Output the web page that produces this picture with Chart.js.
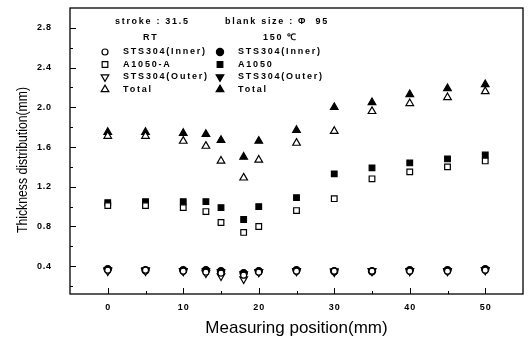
<!DOCTYPE html>
<html>
<head>
<meta charset="utf-8">
<script src="https://cdn.jsdelivr.net/npm/chart.js@4.4.1/dist/chart.umd.min.js"></script>
<style>
  html, body { margin: 0; padding: 0; background: #fff; }
  #wrap { width: 530px; height: 341px; }
</style>
</head>
<body>
<div id="wrap"><canvas id="c" width="530" height="341"></canvas></div>
<script>
// Measuring positions along the cup wall (mm)
const positions = [0, 5, 10, 13, 15, 18, 20, 25, 30, 35, 40, 45, 50];

// Thickness (mm), formed at room temperature
const innerRT = [0.36, 0.36, 0.35, 0.34, 0.33, 0.31, 0.34, 0.35, 0.35, 0.35, 0.35, 0.35, 0.36];
const a1050A_RT = [1.01, 1.01, 0.99, 0.95, 0.84, 0.74, 0.80, 0.96, 1.08, 1.28, 1.35, 1.40, 1.46];
const outerRT = [0.35, 0.35, 0.35, 0.33, 0.30, 0.27, 0.34, 0.35, 0.35, 0.35, 0.35, 0.35, 0.36];
const totalRT = [1.71, 1.71, 1.66, 1.61, 1.46, 1.29, 1.47, 1.64, 1.76, 1.96, 2.04, 2.10, 2.16];

// Thickness (mm), formed at 150 °C
const inner150 = [0.37, 0.36, 0.36, 0.36, 0.35, 0.33, 0.35, 0.36, 0.35, 0.35, 0.36, 0.36, 0.37];
const a1050_150 = [1.04, 1.05, 1.05, 1.05, 0.99, 0.87, 1.00, 1.09, 1.33, 1.39, 1.44, 1.48, 1.52];
const outer150 = [0.36, 0.36, 0.35, 0.35, 0.34, 0.32, 0.34, 0.35, 0.34, 0.35, 0.35, 0.35, 0.36];
const total150 = [1.75, 1.75, 1.74, 1.73, 1.67, 1.50, 1.66, 1.77, 2.00, 2.05, 2.13, 2.19, 2.23];

// Axis ticks
const xTickValues = [0, 10, 20, 30, 40, 50];
const yTickValues = [0.4, 0.8, 1.2, 1.6, 2.0, 2.4, 2.8];

const xTitle = 'Measuring position(mm)';
const yTitle = 'Thickness distribution(mm)';
const headerLeft = 'stroke : 31.5';
const headerRight = 'blank size : \u03A6  95';
const groupLeft = 'RT';
const groupRight = '150 \u2103';

const markerShapes = {
  circle: { pointStyle: 'circle', rotation: 0 },
  square: { pointStyle: 'rect', rotation: 0 },
  down:   { pointStyle: 'triangle', rotation: 180 },
  up:     { pointStyle: 'triangle', rotation: 0 }
};
const markerRadius = { circle: 3, square: 4, down: 4.4, up: 4.4 };
const radiusFor = (shape, filled) => (filled && shape === 'circle') ? 3.6 : markerRadius[shape];

const series = [
  { label: 'STS304(Inner)', values: innerRT,   shape: 'circle', filled: false, col: 0 },
  { label: 'A1050-A',       values: a1050A_RT, shape: 'square', filled: false, col: 0 },
  { label: 'STS304(Outer)', values: outerRT,   shape: 'down',   filled: false, col: 0 },
  { label: 'Total',         values: totalRT,   shape: 'up',     filled: false, col: 0 },
  { label: 'STS304(Inner)', values: inner150,  shape: 'circle', filled: true,  col: 1 },
  { label: 'A1050',         values: a1050_150, shape: 'square', filled: true,  col: 1 },
  { label: 'STS304(Outer)', values: outer150,  shape: 'down',   filled: true,  col: 1 },
  { label: 'Total',         values: total150,  shape: 'up',     filled: true,  col: 1 }
];

const datasets = series.map(s => ({
  label: s.label,
  data: positions.map((x, i) => ({ x: x, y: s.values[i] })),
  showLine: false,
  pointStyle: markerShapes[s.shape].pointStyle,
  rotation: markerShapes[s.shape].rotation,
  pointRadius: radiusFor(s.shape, s.filled),
  pointBorderWidth: 1.2,
  pointBorderColor: '#000',
  pointBackgroundColor: s.filled ? '#000' : '#fff'
}));

const spaced = str => String(str).split('').join('\u200A');

function drawMarker(ctx, shape, filled, x, y) {
  const opts = {
    pointStyle: markerShapes[shape].pointStyle,
    rotation: markerShapes[shape].rotation,
    radius: radiusFor(shape, filled),
    borderWidth: 1.2
  };
  ctx.save();
  ctx.fillStyle = filled ? '#000' : '#fff';
  ctx.strokeStyle = '#000';
  ctx.lineWidth = 1.2;
  Chart.helpers.drawPoint(ctx, opts, x, y);
  ctx.restore();
}

// Frame, inward tick marks, y-axis title and the in-plot legend
const decorations = {
  id: 'decorations',
  beforeDatasetsDraw(chart) {
    const { ctx, chartArea: a, scales } = chart;
    const xs = scales.x, ys = scales.y;
    ctx.save();
    ctx.strokeStyle = '#000';
    ctx.lineWidth = 1.3;
    ctx.strokeRect(a.left, a.top, a.right - a.left, a.bottom - a.top);
    ctx.lineWidth = 1;
    ctx.beginPath();
    for (let v = 0; v <= 50; v += 5) {
      const px = Math.round(xs.getPixelForValue(v)) + 0.5;
      const len = v % 10 === 0 ? 6 : 3;
      ctx.moveTo(px, a.bottom);
      ctx.lineTo(px, a.bottom - len);
    }
    for (let k = 1; k <= 14; k++) {
      const py = Math.round(ys.getPixelForValue(k * 0.2)) + 0.5;
      const len = k % 2 === 0 ? 6 : 3;
      ctx.moveTo(a.left, py);
      ctx.lineTo(a.left + len, py);
    }
    ctx.stroke();
    ctx.restore();
  },
  afterDraw(chart) {
    const { ctx } = chart;
    ctx.save();
    ctx.fillStyle = '#000';

    // y-axis title, set in a narrow face
    ctx.save();
    ctx.translate(23, 160);
    ctx.rotate(-Math.PI / 2);
    ctx.font = '15px "Liberation Sans Narrow", "Arial Narrow", "Liberation Sans", Arial, sans-serif';
    const w = ctx.measureText(yTitle).width;
    const targetW = 146;
    if (w > targetW) ctx.scale(targetW / w, 1);
    ctx.textAlign = 'center';
    ctx.textBaseline = 'middle';
    ctx.fillText(yTitle, 0, 0);
    ctx.restore();

    // headers
    ctx.textBaseline = 'middle';
    ctx.textAlign = 'left';
    ctx.font = 'bold 9px "Liberation Sans", Arial, sans-serif';
    ctx.letterSpacing = '1.7px';
    ctx.fillText(headerLeft, 115, 22);
    ctx.fillText(headerRight, 225, 22);
    ctx.fillText(groupLeft, 143, 38);
    ctx.fillText(groupRight, 263, 38);

    // legend rows
    const rowY = [52, 64.5, 77, 89.5];
    const markerX = [105, 220];
    const textX = [123, 238];
    ctx.letterSpacing = '1.8px';
    series.forEach((s, i) => {
      const row = i % 4;
      drawMarker(ctx, s.shape, s.filled, markerX[s.col], rowY[row]);
      ctx.fillStyle = '#000';
      ctx.fillText(s.label, textX[s.col], rowY[row]);
    });
    ctx.letterSpacing = '0px';
    ctx.restore();
  }
};

new Chart(document.getElementById('c'), {
  type: 'scatter',
  data: { datasets: datasets },
  options: {
    responsive: false,
    animation: false,
    devicePixelRatio: 1,
    events: [],
    layout: { padding: { top: 8, right: 7, left: 0, bottom: 0 } },
    plugins: { legend: { display: false }, tooltip: { enabled: false } },
    scales: {
      x: {
        type: 'linear',
        min: -5,
        max: 55,
        grid: { display: false, drawTicks: false },
        border: { display: false },
        afterBuildTicks: scale => { scale.ticks = xTickValues.map(v => ({ value: v })); },
        afterFit: scale => { scale.height = 47; scale.paddingLeft = 0; scale.paddingRight = 0; },
        ticks: {
          color: '#000',
          padding: 8,
          maxRotation: 0,
          font: { family: '"Liberation Sans", Arial, sans-serif', size: 9, weight: 'bold' },
          callback: v => spaced(v)
        },
        title: {
          display: true,
          text: xTitle,
          color: '#000',
          padding: { top: 0, bottom: 2 },
          font: { family: '"Liberation Sans", Arial, sans-serif', size: 17 }
        }
      },
      y: {
        type: 'linear',
        min: 0.12,
        max: 3.0,
        grid: { display: false, drawTicks: false },
        border: { display: false },
        afterBuildTicks: scale => { scale.ticks = yTickValues.map(v => ({ value: v })); },
        afterFit: scale => { scale.width = 70; scale.paddingTop = 0; scale.paddingBottom = 0; },
        ticks: {
          color: '#000',
          padding: 19,
          font: { family: '"Liberation Sans", Arial, sans-serif', size: 9, weight: 'bold' },
          callback: v => spaced(Number(v).toFixed(1))
        }
      }
    }
  },
  plugins: [decorations]
});
</script>
</body>
</html>
